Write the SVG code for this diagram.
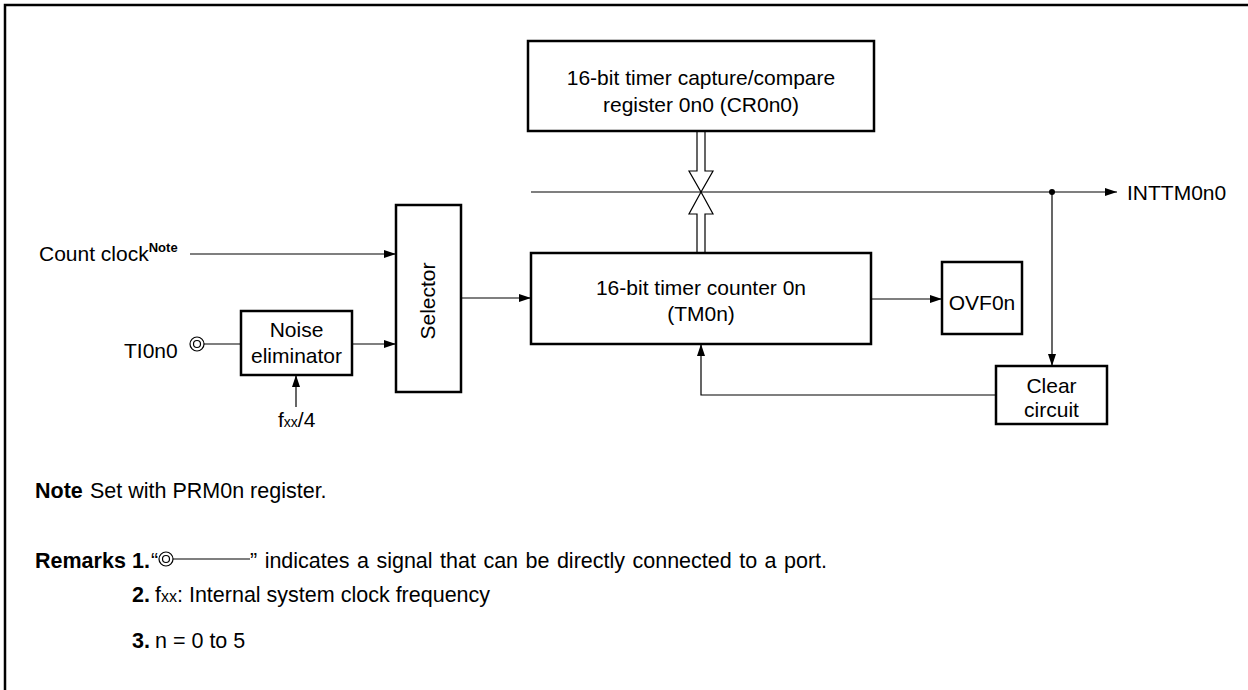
<svg xmlns="http://www.w3.org/2000/svg" width="1248" height="690" viewBox="0 0 1248 690">
<style>
text{font-family:"Liberation Sans",Arial,sans-serif;font-size:21px;fill:#000}
.c{text-anchor:middle}
.b{font-weight:bold}
.n{font-size:21.5px}
.box{fill:#fff;stroke:#000;stroke-width:2.5}
.ln{fill:none;stroke:#000;stroke-width:1.2}
.hol{fill:#fff;stroke:#000;stroke-width:1.2}
.ring{fill:none;stroke:#000;stroke-width:1.2}
</style>
<defs>
<marker id="ah" viewBox="0 0 12 8" refX="12" refY="4" markerWidth="12" markerHeight="8" markerUnits="userSpaceOnUse" orient="auto">
<path d="M0,0 L12,4 L0,8 Z" fill="#000"/>
</marker>
</defs>
<rect width="1248" height="690" fill="#fff"/>
<path d="M5,690 V5 H1248" fill="none" stroke="#000" stroke-width="2.5"/>

<g id="connectors">
<line class="ln" x1="531" y1="192" x2="1117" y2="192" marker-end="url(#ah)"/>
<circle cx="1052" cy="192" r="3" fill="#000"/>
<line class="ln" x1="1052" y1="192" x2="1052" y2="366" marker-end="url(#ah)"/>
<line class="ln" x1="190" y1="254" x2="396" y2="254" marker-end="url(#ah)"/>
<line class="ln" x1="204" y1="344" x2="241" y2="344"/>
<line class="ln" x1="352" y1="344" x2="396" y2="344" marker-end="url(#ah)"/>
<line class="ln" x1="296" y1="407" x2="296" y2="375" marker-end="url(#ah)"/>
<line class="ln" x1="461" y1="298" x2="531" y2="298" marker-end="url(#ah)"/>
<line class="ln" x1="871" y1="299" x2="942" y2="299" marker-end="url(#ah)"/>
<polyline class="ln" points="996,395 701,395 701,344" marker-end="url(#ah)"/>
<path class="hol" d="M697,131 V171 H689 L701,192 L713,171 H705 V131"/>
<path class="hol" d="M697,253 V214 H689 L701,192 L713,214 H705 V253"/>
</g>

<g id="cr0n0">
<rect class="box" x="528" y="41" width="346" height="90"/>
<text class="c" x="701" y="85">16-bit timer capture/compare</text>
<text class="c" x="701" y="112">register 0n0 (CR0n0)</text>
</g>

<g id="tm0n">
<rect class="box" x="531" y="253" width="340" height="91"/>
<text class="c" x="701" y="295">16-bit timer counter 0n</text>
<text class="c" x="701" y="321">(TM0n)</text>
</g>

<g id="selector">
<rect class="box" x="396" y="205" width="65" height="187"/>
<text class="c" transform="translate(435,301) rotate(-90)">Selector</text>
</g>

<g id="noise">
<rect class="box" x="241" y="311" width="111" height="64"/>
<text class="c" x="296.5" y="337">Noise</text>
<text class="c" x="296.5" y="363">eliminator</text>
</g>

<g id="ovf0n">
<rect class="box" x="942" y="262" width="80" height="72"/>
<text class="c" x="982" y="310">OVF0n</text>
</g>

<g id="clear">
<rect class="box" x="996" y="366" width="111" height="58"/>
<text class="c" x="1051.5" y="393">Clear</text>
<text class="c" x="1051.5" y="417">circuit</text>
</g>

<g id="count-clock">
<text x="39" y="261">Count clock<tspan class="b" font-size="13" dy="-9">Note</tspan></text>
</g>

<g id="ti0n0">
<text x="124" y="358">TI0n0</text>
<circle class="ring" cx="197" cy="344" r="7"/>
<circle class="ring" cx="197" cy="344" r="3.5"/>
</g>

<g id="fxx4">
<text x="278" y="427">f<tspan font-size="14">xx</tspan>/4</text>
</g>

<g id="inttm">
<text x="1127" y="200">INTTM0n0</text>
</g>

<g id="notes">
<text class="b n" x="35" y="498">Note</text>
<text class="n" x="90" y="498">Set with PRM0n register.</text>
<text class="b n" x="35" y="568">Remarks</text>
<text class="b n" x="132" y="568">1.</text>
<text class="n" x="151" y="568">“</text>
<circle class="ring" cx="166" cy="559" r="7"/>
<circle class="ring" cx="166" cy="559" r="3.5"/>
<line x1="173" y1="559" x2="250" y2="559" stroke="#000" stroke-width="1.2"/>
<text class="n" x="250" y="568" word-spacing="1.5">” indicates a signal that can be directly connected to a port.</text>
<text class="b n" x="132" y="602">2.</text>
<text class="n" x="155" y="602">f<tspan font-size="16">xx</tspan>: Internal system clock frequency</text>
<text class="b n" x="132" y="648">3.</text>
<text class="n" x="155" y="648">n = 0 to 5</text>
</g>
</svg>
